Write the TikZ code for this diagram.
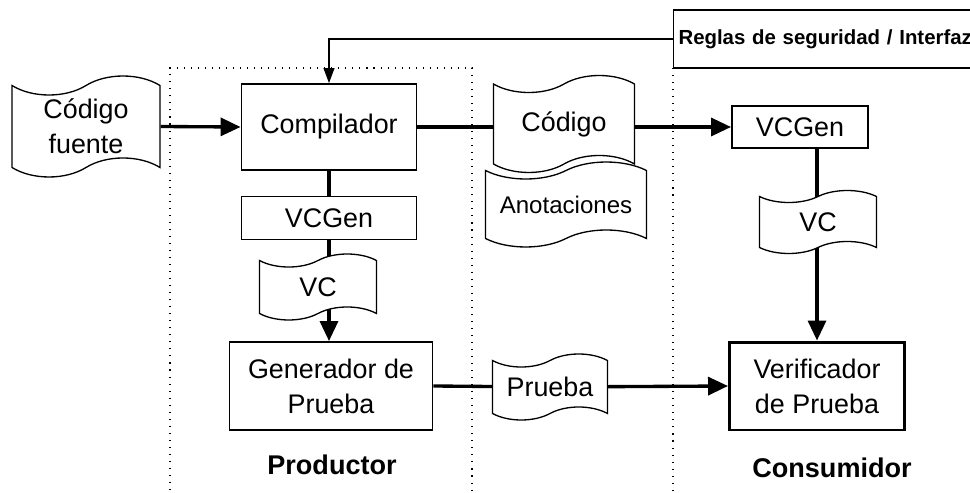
\documentclass[tikz,border=0pt]{standalone}
\usepackage{fontspec}
\setmainfont{Liberation Sans}
\usetikzlibrary{shapes.symbols,arrows.meta,backgrounds}

\begin{document}
\begin{tikzpicture}[x=0.02cm, y=-0.02cm,
    txt/.style={font=\fontsize{15.3}{20}\selectfont},
    caja/.style={txt, draw, line width=1.1pt, fill=white, inner sep=0pt, align=center},
    cinta/.style={txt, tape, draw, line width=0.75pt, fill=white, inner sep=0pt, align=center},
    flujo/.style={line width=1.9pt},
    flecha/.style={flujo, -{Triangle[length=0.4cm, width=0.36cm]}},
    retorno/.style={line width=0.6pt, -{Triangle[length=0.3cm, width=0.22cm]}},
    zona/.style={line width=0.6pt, dash pattern=on 0.6pt off 3.4pt},
    rotulo/.style={font=\fontsize{15.4}{18}\selectfont\bfseries}]

  \useasboundingbox (0,0) rectangle (970,493);

  %% ---- Productor ----
  \node[cinta, minimum width=2.96cm, minimum height=2.02cm, tape bend height=0.38cm]
    (fuente) at (86,126.5) {Código\\fuente};
  \node[caja, minimum width=3.5cm, minimum height=1.72cm] (comp) at (329,127) {Compilador};
  \node[caja, minimum width=3.5cm, minimum height=0.86cm] (vcgenP) at (329,218) {VCGen};
  \node[cinta, minimum width=2.34cm, minimum height=1.32cm, tape bend height=0.26cm]
    (vcP) at (318,287) {VC};
  \node[caja, minimum width=4.06cm, minimum height=1.76cm] (gen) at (331,386) {Generador de\\Prueba};
  \node[rotulo] (prod) at (332,465) {Productor};

  %% ---- Canal ----
  \node[cinta, minimum width=2.82cm, minimum height=1.94cm, tape bend height=0.34cm]
    (codigo) at (564,124) {Código};
  \node[cinta, minimum width=3.22cm, minimum height=1.7cm, tape bend height=0.34cm,
    font=\fontsize{13.7}{16}\selectfont] (anot) at (566,204.5) {Anotaciones};
  \node[cinta, minimum width=2.3cm, minimum height=1.32cm, tape bend height=0.26cm]
    (prueba) at (550,387) {Prueba};

  %% ---- Consumidor ----
  \node[caja, minimum width=2.72cm, minimum height=0.84cm] (vcgenC) at (800,127) {VCGen};
  \node[cinta, minimum width=2.34cm, minimum height=1.26cm, tape bend height=0.24cm]
    (vcC) at (818,222) {VC};
  \node[caja, line width=1.7pt, minimum width=3.5cm, minimum height=1.76cm]
    (verif) at (817,386) {Verificador\\de Prueba};
  \node[rotulo] (cons) at (832,468) {Consumidor};

  %% ---- Reglas (box runs past the right edge) ----
  \node[draw, line width=0.6pt, fill=white, anchor=west, minimum height=1.16cm,
    text width=6cm, inner sep=0.1cm, align=left,
    font=\fontsize{11.6}{14}\selectfont\bfseries] (reglas) at (673,39)
    {Reglas de seguridad / Interfaz};

  \begin{scope}[on background layer]
    %% ---- Zones ----
    \draw[zona] (170,490) -- (170,68) -- (472,68) -- (472,490);
    \draw[zona] (673,68) -- (673,490);

    %% ---- Flow ----
    \draw[flecha] (fuente.east) -- (comp.west);
    \draw[flujo] (comp.south) -- (vcgenP.north);
    \draw[flujo] (vcgenP.south) -- (vcgenP.south |- vcP.center);
    \draw[flecha] (vcgenP.south |- vcP.center) -- (vcgenP.south |- gen.north);
    \draw[flujo] (gen.east) -- (prueba.center);
    \draw[flecha] (prueba.center) -- (verif.west);
    \draw[flujo] (comp.east) -- (comp.east -| codigo.center);
    \draw[flecha] (vcgenC.west -| codigo.center) -- (vcgenC.west);
    \draw[flecha] (verif.north |- vcgenC.south) -- (verif.north);
    \draw[retorno] (reglas.west) -| (comp.north);
  \end{scope}

\end{tikzpicture}
\end{document}
